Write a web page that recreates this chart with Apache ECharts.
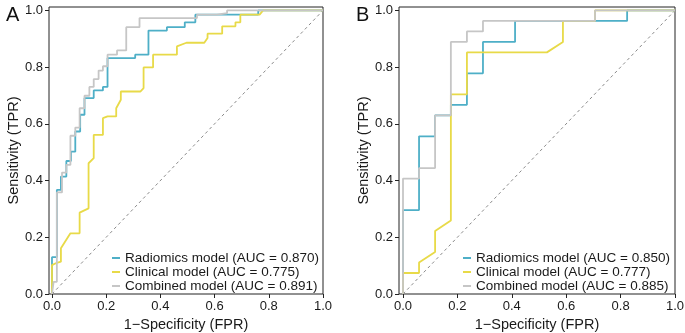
<!DOCTYPE html>
<html>
<head>
<meta charset="utf-8">
<script src="https://cdn.jsdelivr.net/npm/echarts@6/dist/echarts.min.js"></script>
<style>
  html, body { margin: 0; padding: 0; background: #fff; }
  #chart { width: 685px; height: 333px; }
</style>
</head>
<body>
<div id="chart"></div>
<script>
// ROC curve vertices [1-specificity, sensitivity]
var radiomicsA = [[0,0],[0,0.13],[0.018,0.13],[0.018,0.367],[0.033,0.367],[0.033,0.414],[0.053,0.414],[0.053,0.469],
  [0.07,0.469],[0.07,0.502],[0.086,0.502],[0.086,0.573],[0.104,0.573],[0.104,0.632],[0.12,0.632],[0.12,0.691],
  [0.154,0.691],[0.154,0.718],[0.188,0.718],[0.188,0.73],[0.205,0.73],[0.205,0.832],[0.307,0.832],[0.307,0.844],
  [0.356,0.844],[0.356,0.929],[0.424,0.929],[0.424,0.941],[0.49,0.941],[0.49,0.958],[0.529,0.958],[0.529,0.985],
  [0.761,0.985],[0.761,1],[1,1]];
var clinicalA = [[0,0],[0,0.102],[0.018,0.11],[0.033,0.114],[0.033,0.161],[0.068,0.214],[0.102,0.214],[0.102,0.287],
  [0.135,0.302],[0.135,0.461],[0.154,0.479],[0.154,0.561],[0.188,0.561],[0.188,0.62],[0.205,0.626],[0.237,0.626],
  [0.237,0.655],[0.254,0.685],[0.254,0.714],[0.326,0.714],[0.338,0.726],[0.338,0.799],[0.373,0.799],[0.373,0.844],
  [0.461,0.844],[0.461,0.873],[0.496,0.886],[0.562,0.886],[0.574,0.903],[0.574,0.918],[0.628,0.918],[0.628,0.944],
  [0.677,0.944],[0.677,0.958],[0.695,0.958],[0.695,0.985],[0.766,0.985],[0.779,1],[1,1]];
var combinedA = [[0,0],[0.006,0],[0.006,0.043],[0.018,0.043],[0.018,0.358],[0.037,0.358],[0.037,0.428],[0.053,0.428],
  [0.053,0.455],[0.068,0.455],[0.068,0.558],[0.086,0.558],[0.086,0.587],[0.102,0.587],[0.102,0.655],[0.12,0.655],
  [0.12,0.699],[0.138,0.699],[0.138,0.73],[0.154,0.73],[0.154,0.758],[0.172,0.758],[0.172,0.788],[0.188,0.788],
  [0.188,0.803],[0.205,0.803],[0.205,0.844],[0.24,0.844],[0.24,0.859],[0.274,0.859],[0.274,0.941],[0.323,0.941],
  [0.323,0.973],[0.535,0.973],[0.535,0.985],[0.609,0.985],[0.609,0.99],[0.646,0.99],[0.646,1],[1,1]];

var radiomicsB = [[0,0],[0,0.296],[0.059,0.296],[0.059,0.556],[0.118,0.556],[0.118,0.63],[0.176,0.63],[0.176,0.667],
  [0.235,0.667],[0.235,0.778],[0.294,0.778],[0.294,0.889],[0.412,0.889],[0.412,0.963],[0.824,0.963],[0.824,1],[1,1]];
var clinicalB = [[0,0],[0,0.074],[0.059,0.074],[0.059,0.111],[0.118,0.148],[0.118,0.222],[0.176,0.259],[0.176,0.704],
  [0.235,0.704],[0.235,0.852],[0.529,0.852],[0.588,0.889],[0.588,0.963],[0.706,0.963],[0.706,1],[1,1]];
var combinedB = [[0,0],[0,0.407],[0.059,0.407],[0.059,0.444],[0.118,0.444],[0.118,0.63],[0.176,0.63],[0.176,0.889],
  [0.235,0.889],[0.235,0.926],[0.294,0.926],[0.294,0.963],[0.706,0.963],[0.706,1],[1,1]];

var namesA = ['Radiomics model (AUC = 0.870)', 'Clinical model (AUC = 0.775)', 'Combined model (AUC = 0.891)'];
var namesB = ['Radiomics model (AUC = 0.850)', 'Clinical model (AUC = 0.777)', 'Combined model (AUC = 0.885)'];
var tickValues = [0, 0.2, 0.4, 0.6, 0.8, 1.0];
var colors = ['#4eafc7', '#e8da48', '#c6c6c6'];

var fontFam = 'Liberation Sans, Arial, Helvetica, sans-serif';

function makeX(idx, minVal) {
  return {
    type: 'value', gridIndex: idx, min: minVal, max: 1.0,
    name: '1\u2212Specificity (FPR)', nameLocation: 'middle', nameGap: 21,
    nameTextStyle: { fontSize: 14.5, color: '#1a1a1a', fontFamily: fontFam },
    axisLine: { show: false },
    axisTick: { show: true, length: 4, customValues: tickValues, lineStyle: { color: '#222' } },
    axisLabel: { customValues: tickValues, margin: 6, fontSize: 13, color: '#1a1a1a', fontFamily: fontFam,
      formatter: function (v) { return v.toFixed(1); } },
    splitLine: { show: false }
  };
}
function makeY(idx) {
  return {
    type: 'value', gridIndex: idx, min: 0, max: 1.012,
    name: 'Sensitivity (TPR)', nameLocation: 'middle', nameGap: 27,
    nameTextStyle: { fontSize: 14.5, color: '#1a1a1a', fontFamily: fontFam },
    axisLine: { show: false, onZero: false },
    axisTick: { show: true, length: 4, customValues: tickValues, lineStyle: { color: '#222' } },
    axisLabel: { customValues: tickValues, margin: 6, fontSize: 13, color: '#1a1a1a', fontFamily: fontFam,
      formatter: function (v) { return v.toFixed(1); } },
    splitLine: { show: false }
  };
}

function curve(name, data, color, idx) {
  return {
    name: name, type: 'line', xAxisIndex: idx, yAxisIndex: idx, data: data,
    showSymbol: false, symbol: 'none', silent: true,
    lineStyle: { color: color, width: 1.8 }, itemStyle: { color: color }
  };
}
function diag(idx) {
  return {
    type: 'line', xAxisIndex: idx, yAxisIndex: idx, data: [[0, 0], [1, 1]],
    showSymbol: false, symbol: 'none', silent: true,
    lineStyle: { color: '#8a8a8a', width: 1, type: [3, 3] }
  };
}
function makeLegend(names, left) {
  return {
    data: names, orient: 'vertical', left: left, top: 251, padding: 0, itemGap: 0,
    itemWidth: 8, itemHeight: 2, icon: 'rect', selectedMode: false,
    textStyle: { fontSize: 13.5, lineHeight: 14, color: '#1a1a1a', fontFamily: fontFam }
  };
}

var myChart = echarts.init(document.getElementById('chart'), null, { renderer: 'canvas' });
var option = {
  animation: false,
  backgroundColor: '#fff',
  title: [
    { text: 'A', left: 1, top: 0, textStyle: { fontSize: 20, fontWeight: 'normal', color: '#111', fontFamily: fontFam } },
    { text: 'B', left: 351, top: 0, textStyle: { fontSize: 20, fontWeight: 'normal', color: '#111', fontFamily: fontFam } }
  ],
  grid: [
    { left: 49, top: 7, width: 274, height: 287, outerBoundsMode: 'none', containLabel: false,
      show: true, borderColor: '#222', borderWidth: 1, backgroundColor: 'transparent' },
    { left: 399, top: 7, width: 276, height: 287, outerBoundsMode: 'none', containLabel: false,
      show: true, borderColor: '#222', borderWidth: 1, backgroundColor: 'transparent' }
  ],
  xAxis: [makeX(0, -0.011), makeX(1, -0.0147)],
  yAxis: [makeY(0), makeY(1)],
  legend: [makeLegend(namesA, 112), makeLegend(namesB, 463)],
  series: [
    diag(0),
    curve(namesA[0], radiomicsA, colors[0], 0),
    curve(namesA[1], clinicalA, colors[1], 0),
    curve(namesA[2], combinedA, colors[2], 0),
    diag(1),
    curve(namesB[0], radiomicsB, colors[0], 1),
    curve(namesB[1], clinicalB, colors[1], 1),
    curve(namesB[2], combinedB, colors[2], 1)
  ]
};
myChart.setOption(option);
</script>
</body>
</html>
